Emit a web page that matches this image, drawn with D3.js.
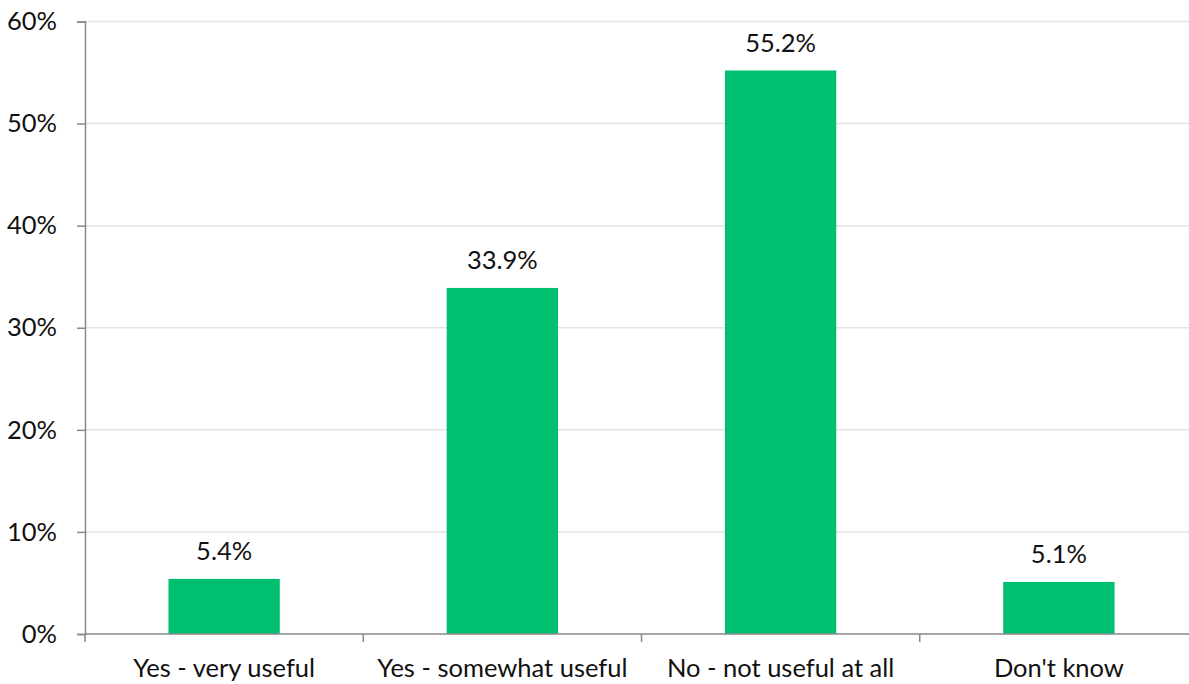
<!DOCTYPE html>
<html>
<head>
<meta charset="utf-8">
<script src="https://cdn.jsdelivr.net/npm/d3@7"></script>
<style>
  html, body { margin: 0; padding: 0; background: #fff; }
  svg { display: block; font-family: Lato, "Open Sans", sans-serif; }
</style>
</head>
<body>
<svg id="chart" width="1189" height="684"></svg>
<script>
// Survey responses: share of respondents per answer
const categories = ["Yes - very useful", "Yes - somewhat useful", "No - not useful at all", "Don't know"];
const shares = [5.4, 33.9, 55.2, 5.1];
const yTicks = [0, 10, 20, 30, 40, 50, 60];

const svg = d3.select("#chart");
const plotLeft = 85, plotTop = 21.5, plotBottom = 634, plotRight = 1198;
const fontSize = 25.5;

const x = d3.scaleBand().domain(categories).range([plotLeft, plotRight]).paddingInner(0.6).paddingOuter(0.3);
const y = d3.scaleLinear().domain([0, 60]).range([plotBottom, plotTop]);

// horizontal gridlines
svg.append("g").selectAll("line")
  .data(yTicks.filter(t => t > 0))
  .join("line")
  .attr("x1", plotLeft).attr("x2", plotRight)
  .attr("y1", d => y(d)).attr("y2", d => y(d))
  .attr("stroke", "#e3e3e3").attr("stroke-width", 1.5);

// bars
svg.append("g").selectAll("rect")
  .data(categories.map((c, i) => ({ c, v: shares[i] })))
  .join("rect")
  .attr("x", d => x(d.c)).attr("width", x.bandwidth())
  .attr("y", d => y(d.v)).attr("height", d => y(0) - y(d.v))
  .attr("fill", "#00bf6f");

// value labels
svg.append("g").selectAll("text")
  .data(categories.map((c, i) => ({ c, v: shares[i] })))
  .join("text")
  .attr("x", d => x(d.c) + x.bandwidth() / 2)
  .attr("y", d => y(d.v) - 19)
  .attr("text-anchor", "middle")
  .attr("font-size", fontSize)
  .attr("fill", "#111")
  .text(d => d.v.toFixed(1) + "%");

// y axis
const yAxis = svg.append("g")
  .attr("transform", `translate(${plotLeft},0)`)
  .call(d3.axisLeft(y).tickValues(yTicks).tickSize(8).tickPadding(20).tickFormat(d => d + "%"));
yAxis.select(".domain").attr("stroke", "#898989").attr("stroke-width", 1.5);
yAxis.selectAll(".tick line").attr("stroke", "#898989").attr("stroke-width", 1.5);
yAxis.selectAll(".tick text").attr("font-size", fontSize).attr("fill", "#111").attr("font-family", "Lato, sans-serif");

// x axis
const xEdges = d3.range(categories.length + 1).map(i => plotLeft + i * x.step());
const xAxis = svg.append("g").attr("transform", `translate(0,${plotBottom})`);
xAxis.append("line").attr("x1", plotLeft).attr("x2", plotRight).attr("stroke", "#898989").attr("stroke-width", 1.5);
xAxis.selectAll("line.tk").data(xEdges).join("line").attr("class", "tk")
  .attr("x1", d => d).attr("x2", d => d).attr("y1", 0).attr("y2", 8)
  .attr("stroke", "#898989").attr("stroke-width", 1.5);
xAxis.selectAll("text").data(categories).join("text")
  .attr("x", d => x(d) + x.bandwidth() / 2)
  .attr("y", 43)
  .attr("text-anchor", "middle")
  .attr("font-size", fontSize)
  .attr("fill", "#111")
  .text(d => d);
</script>
</body>
</html>
